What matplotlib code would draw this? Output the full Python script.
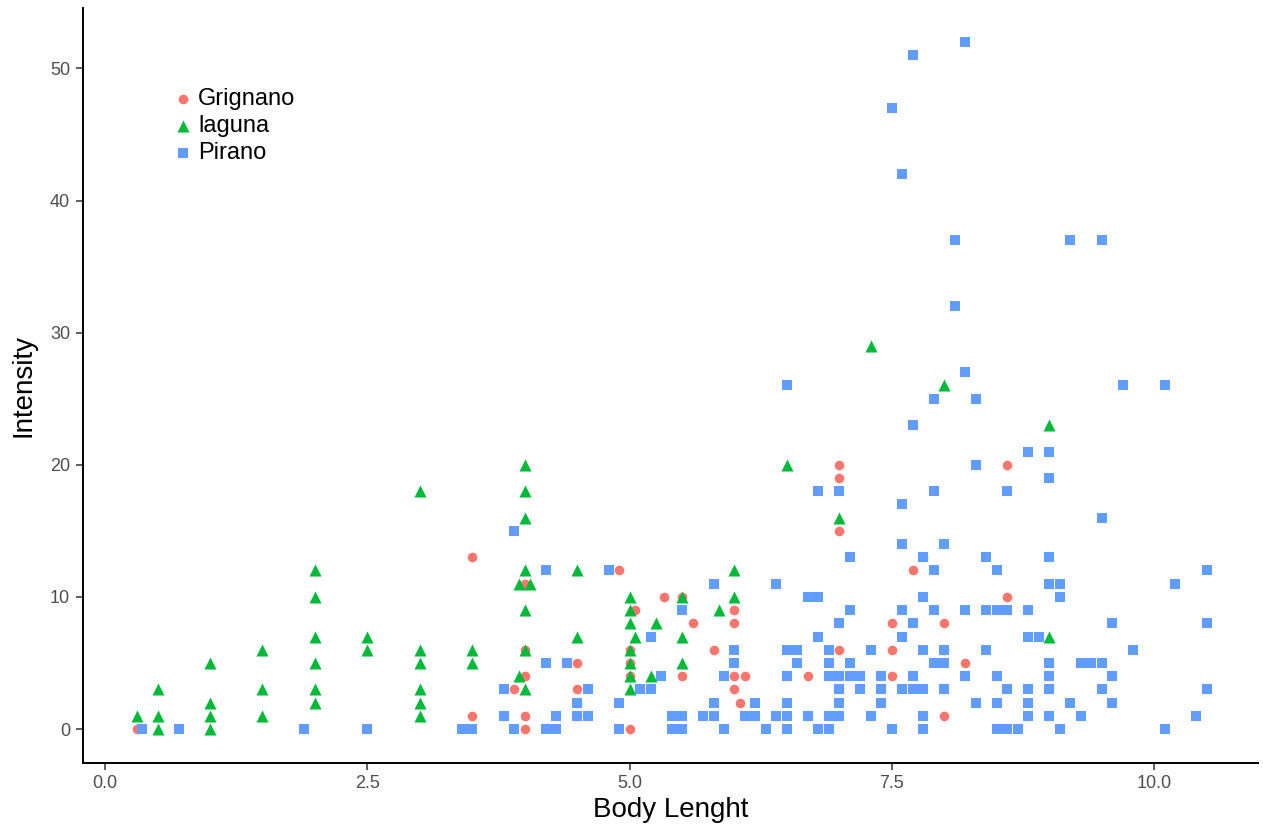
import matplotlib
matplotlib.use("Agg")
import matplotlib.pyplot as plt

plt.rcParams['font.family'] = ['Liberation Sans', 'DejaVu Sans']

# Grignano (red circles)
grig_x = [0.3, 3.5, 3.5, 3.9, 4.0, 4.0, 4.0, 4.0, 4.0, 4.5, 4.5, 4.5, 4.5, 4.9,
          5.0, 5.05, 5.0, 5.0, 5.0, 5.33, 5.5, 5.6, 5.5, 5.8, 6.0, 6.0, 6.0, 6.0,
          6.05, 6.1, 6.7, 7.0, 7.0, 7.0, 7.0, 7.0, 7.0, 7.5, 7.5, 7.5, 7.7, 7.8,
          8.0, 8.0, 8.0, 8.2, 8.6, 8.6]
grig_y = [0, 13, 1, 3, 11, 6, 4, 1, 0, 5, 3, 2, 1, 12,
          0, 9, 6, 5, 4, 10, 10, 8, 4, 6, 9, 8, 4, 3,
          2, 4, 4, 3, 6, 8, 15, 19, 20, 8, 6, 4, 12, 13,
          6, 8, 1, 5, 20, 10]

# laguna (green triangles)
lag_x = [0.3, 0.5, 0.5, 0.5, 1.0, 1.0, 1.0, 1.0, 1.5, 1.5, 1.5,
         2.0, 2.0, 2.0, 2.0, 2.0, 2.0, 2.5, 2.5,
         3.0, 3.0, 3.0, 3.0, 3.0, 3.0, 3.5, 3.5,
         4.0, 4.0, 4.0, 4.0, 3.95, 4.05, 4.0, 4.0, 3.95, 4.0,
         4.5, 4.5, 5.0, 5.0, 5.0, 5.0, 5.0, 5.0, 5.0, 5.05, 5.25, 5.2,
         5.5, 5.5, 5.5, 5.85, 6.0, 6.0, 6.5, 7.0, 7.3, 8.0, 9.0, 9.0]
lag_y = [1, 0, 1, 3, 0, 1, 2, 5, 1, 3, 6,
         2, 3, 5, 7, 10, 12, 6, 7,
         18, 6, 5, 3, 2, 1, 6, 5,
         20, 18, 16, 12, 11, 11, 9, 6, 4, 3,
         12, 7, 10, 9, 8, 6, 5, 4, 3, 7, 8, 4,
         10, 7, 5, 9, 12, 10, 20, 16, 29, 26, 23, 7]

# Pirano (blue squares)
pir_x = [0.35, 0.7, 1.9, 2.5,
         3.4, 3.5, 3.9, 4.2, 4.3, 4.9, 3.8, 4.3, 4.5, 4.6, 4.5, 4.9,
         3.8, 4.6, 5.1, 5.2, 5.3, 4.2, 4.4, 5.2, 4.2, 4.8, 3.9,
         5.4, 5.5, 5.9, 6.3, 6.5, 6.8, 6.9, 7.5, 7.8,
         5.4, 5.5, 5.7, 5.8, 6.1, 6.2, 6.4, 6.5, 6.7, 6.9, 7.0, 7.3, 7.8,
         5.8, 6.2, 6.5, 7.0, 7.4,
         7.0, 7.2, 7.4, 7.6, 7.7, 7.8,
         5.9, 6.5, 6.9, 7.0, 7.1, 7.2, 7.4, 7.7,
         6.0, 6.6, 6.9, 7.1, 7.9,
         6.0, 6.5, 6.6, 6.9, 7.3, 7.8,
         6.8, 7.6, 7.0, 7.7,
         5.5, 7.1, 7.6, 7.9,
         6.7, 6.8, 7.8, 5.8, 6.4, 7.9, 7.1, 7.8, 7.6, 7.6,
         6.8, 7.0, 7.9,
         8.0, 8.0, 8.0, 8.0, 8.2, 8.2, 8.3, 8.6, 8.8, 9.0, 9.0, 8.6, 9.5,
         8.4, 9.0, 8.5, 9.0, 9.1, 10.5, 10.2, 9.1,
         8.4, 8.5, 8.6, 8.8, 9.6, 10.5, 8.8, 8.9, 8.4, 9.8,
         9.0, 9.3, 9.4, 9.5, 8.5, 9.0, 9.6,
         8.6, 8.8, 9.0, 9.5, 10.5,
         8.3, 8.5, 8.8, 9.2, 9.6,
         8.8, 9.0, 9.3, 10.4,
         8.5, 8.6, 8.7, 9.1, 10.1,
         7.7, 7.5, 7.6, 8.2, 8.1, 9.2, 9.5, 8.1, 8.2, 8.3, 7.9,
         6.5, 9.7, 10.1, 7.7]
pir_y = [0, 0, 0, 0,
         0, 0, 0, 0, 0, 0, 1, 1, 1, 1, 2, 2,
         3, 3, 3, 3, 4, 5, 5, 7, 12, 12, 15,
         0, 0, 0, 0, 0, 0, 0, 0, 0,
         1, 1, 1, 1, 1, 1, 1, 1, 1, 1, 1, 1, 1,
         2, 2, 2, 2, 2,
         3, 3, 3, 3, 3, 3,
         4, 4, 4, 4, 4, 4, 4, 4,
         5, 5, 5, 5, 5,
         6, 6, 6, 6, 6, 6,
         7, 7, 8, 8,
         9, 9, 9, 9,
         10, 10, 10, 11, 11, 12, 13, 13, 14, 17,
         18, 18, 18,
         5, 6, 3, 14, 4, 9, 20, 18, 21, 21, 19, 18, 16,
         13, 13, 12, 11, 11, 12, 11, 10,
         9, 9, 9, 9, 8, 8, 7, 7, 6, 6,
         5, 5, 5, 5, 4, 4, 4,
         3, 3, 3, 3, 3,
         2, 2, 2, 2, 2,
         1, 1, 1, 1,
         0, 0, 0, 0, 0,
         51, 47, 42, 52, 37, 37, 37, 32, 27, 25, 25,
         26, 26, 26, 23]

fig = plt.figure(figsize=(12.63, 8.38), dpi=100)
ax = fig.add_axes([0.0655, 0.0895, 0.9305, 0.9005])

ax.scatter(grig_x, grig_y, marker="o", s=48, color="#F8766D", linewidths=0, label="Grignano", zorder=3)
ax.scatter(lag_x, lag_y, marker="^", s=75, color="#00BA38", linewidths=0, label="laguna", zorder=3)
ax.scatter(pir_x, pir_y, marker="s", s=52, color="#619CFF", linewidths=0, label="Pirano", zorder=3)

ax.set_xlim(-0.213, 10.99)
ax.set_ylim(-2.57, 54.54)
ax.set_xticks([0, 2.5, 5, 7.5, 10])
ax.set_xticklabels(["0.0", "2.5", "5.0", "7.5", "10.0"])
ax.set_yticks([0, 10, 20, 30, 40, 50])

for side in ["top", "right"]:
    ax.spines[side].set_visible(False)
for side in ["left", "bottom"]:
    ax.spines[side].set_linewidth(1.4)
    ax.spines[side].set_color("black")
ax.tick_params(direction="out", length=5, width=1.1, color="#333333",
               labelsize=13, labelcolor="#4D4D4D", pad=4)

ax.set_xlabel("Body Lenght", fontsize=20, labelpad=3)
ax.set_ylabel("Intensity", fontsize=20, labelpad=10)

leg = ax.legend(loc="upper left", bbox_to_anchor=(0.066, 0.907), frameon=False,
                fontsize=17, handletextpad=0.1, labelspacing=0.22,
                borderaxespad=0, handlelength=1.1, scatterpoints=1)

fig.savefig("out.png", dpi=100)
